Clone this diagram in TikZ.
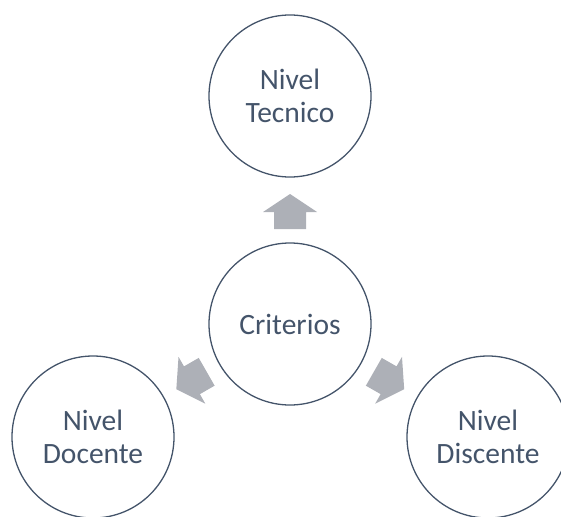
\documentclass[tikz,border=0pt]{standalone}
\usepackage{fontspec}
\setmainfont{Carlito}
\usetikzlibrary{calc}
\definecolor{lineblue}{HTML}{44546A}
\definecolor{arrowgray}{HTML}{ADB0B7}
\begin{document}
\begin{tikzpicture}[x=1pt,y=-1pt,
  circ/.style={circle, draw=lineblue, line width=1.3pt, minimum size=162pt,
    inner sep=0pt, text=lineblue, align=center,
    font=\fontsize{29.5}{33}\selectfont},
  blockarrow/.pic={\fill[arrowgray] (-17.5,-16) -- (-0.5,-16) -- (-0.5,-27)
    -- (17.5,0) -- (-0.5,27) -- (-0.5,16) -- (-17.5,16) -- cycle;}]
\useasboundingbox (0,0) rectangle (561,516);
\node[circ] (top) at (290,96) {Nivel\\Tecnico};
\node[circ] (center) at (290,324) {Criterios};
\node[circ] (left) at (93,437) {Nivel\\Docente};
\node[circ] (right) at (488,437) {Nivel\\Discente};
\pic[rotate=90] at ($(top)!0.5!(center)+(0,1.5)$) {blockarrow};
\pic[rotate=209.8] at ($(center)!0.5!(left)$) {blockarrow};
\pic[rotate=-29.8] at ($(center)!0.5!(right)$) {blockarrow};
\end{tikzpicture}
\end{document}
